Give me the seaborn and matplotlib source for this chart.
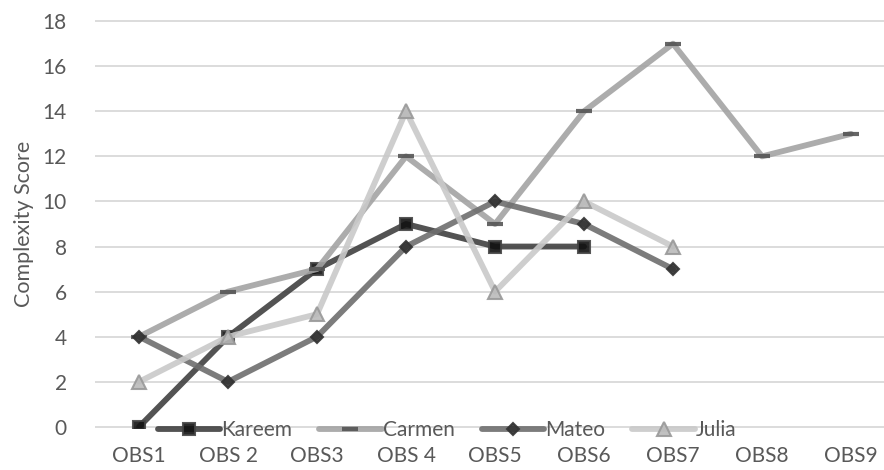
import numpy as np
import pandas as pd
import seaborn as sns
import matplotlib.pyplot as plt

obs = ['OBS1', 'OBS 2', 'OBS3', 'OBS 4', 'OBS5', 'OBS6', 'OBS7', 'OBS8', 'OBS9']
kareem = [0, 4, 7, 9, 8, 8]
carmen = [4, 6, 7, 12, 9, 14, 17, 12, 13]
mateo = [4, 2, 4, 8, 10, 9, 7]
julia = [2, 4, 5, 14, 6, 10, 8]

sns.set_style('white')
plt.rcParams['font.family'] = ['Lato', 'DejaVu Sans']

fig = plt.figure(figsize=(8.84, 4.7), dpi=100)
ax = fig.add_axes([0.107, 0.0894, 0.906, 0.868])

# name, values, line colour, marker, marker face, marker edge, marker size
series = [
    ('Kareem', kareem, '#404040', 's', '#111111', '#444444', 8.5),
    ('Carmen', carmen, '#a3a3a3', '_', '#555555', '#555555', 12),
    ('Mateo', mateo, '#6e6e6e', 'D', '#333333', '#333333', 6.5),
    ('Julia', julia, '#c9c9c9', '^', '#bbbbbb', '#999999', 9.5),
]

for name, vals, col, mk, mfc, mec, ms in series:
    d = pd.DataFrame({'x': np.arange(len(vals)), 'score': vals})
    sns.lineplot(data=d, x='x', y='score', ax=ax, color=col, lw=4.2, alpha=0.9,
                 marker=mk, markersize=ms, markerfacecolor=mfc, markeredgecolor=mec,
                 markeredgewidth=1.5 if mk != '_' else 3, label=name)

ax.set_xlim(-0.5, len(obs) - 0.5)
ax.set_ylim(-0.05, 18.05)
ax.set_xticks(range(len(obs)))
ax.set_xticklabels(obs)
ax.set_yticks(range(0, 19, 2))
ax.set_xlabel('')
ax.set_ylabel('Complexity Score', fontsize=15.5, color='#595959', labelpad=6)
ax.yaxis.grid(True, color='#d9d9d9', lw=1.3)
ax.set_axisbelow(True)
ax.tick_params(axis='both', length=0, labelsize=15, labelcolor='#595959')
ax.tick_params(axis='x', pad=13)
ax.tick_params(axis='y', pad=20)
sns.despine(ax=ax, left=True, bottom=True)

ax.legend(loc='center', bbox_to_anchor=(0.44, -0.005), ncol=4, frameon=False,
          handlelength=3.0, handletextpad=0.05, columnspacing=1.3,
          fontsize=15, labelcolor='#595959', borderaxespad=0)

fig.savefig('out.png', dpi=100)
